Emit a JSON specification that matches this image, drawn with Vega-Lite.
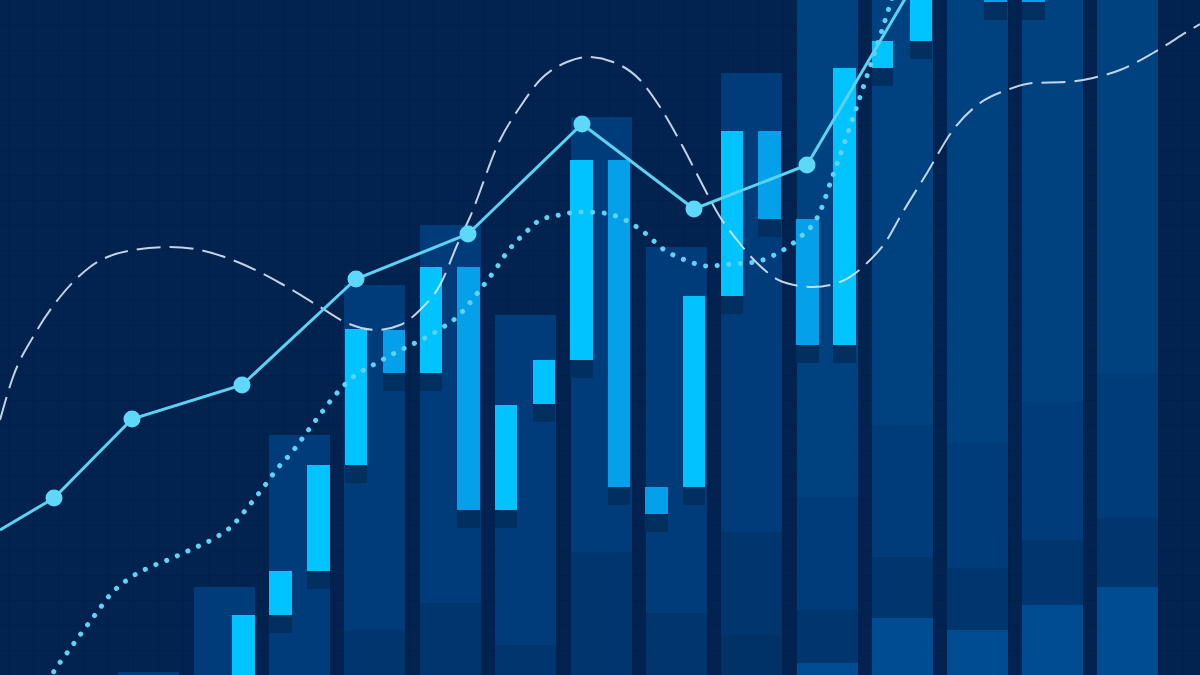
{
  "$schema": "https://vega.github.io/schema/vega-lite/v6.json",
  "width": 1200,
  "height": 675,
  "autosize": {"type": "fit", "contains": "padding"},
  "padding": 0,
  "background": "#02224f",
  "config": {"view": {"stroke": null}},
  "datasets": {
    "cols": [
      {"x": 118, "x2": 179, "y": 0, "y2": 3, "kind": "medium"},
      {"x": 194, "x2": 255, "y": 0, "y2": 88, "kind": "medium"},
      {"x": 269, "x2": 330, "y": 0, "y2": 240, "kind": "medium"},
      {"x": 344, "x2": 405, "y": 0, "y2": 45, "kind": "dark"},
      {"x": 344, "x2": 405, "y": 45, "y2": 390, "kind": "medium"},
      {"x": 420, "x2": 481, "y": 0, "y2": 72, "kind": "dark"},
      {"x": 420, "x2": 481, "y": 72, "y2": 450, "kind": "medium"},
      {"x": 495, "x2": 556, "y": 0, "y2": 30, "kind": "dark"},
      {"x": 495, "x2": 556, "y": 30, "y2": 360, "kind": "medium"},
      {"x": 571, "x2": 632, "y": 0, "y2": 123, "kind": "dark"},
      {"x": 571, "x2": 632, "y": 123, "y2": 558, "kind": "medium"},
      {"x": 646, "x2": 707, "y": 0, "y2": 62, "kind": "dark"},
      {"x": 646, "x2": 707, "y": 62, "y2": 428, "kind": "medium"},
      {"x": 721, "x2": 782, "y": 0, "y2": 40, "kind": "darker"},
      {"x": 721, "x2": 782, "y": 40, "y2": 143, "kind": "dark"},
      {"x": 721, "x2": 782, "y": 143, "y2": 602, "kind": "medium"},
      {"x": 797, "x2": 858, "y": 0, "y2": 12, "kind": "bright"},
      {"x": 797, "x2": 858, "y": 12, "y2": 65, "kind": "dark"},
      {"x": 797, "x2": 858, "y": 65, "y2": 178, "kind": "medium"},
      {"x": 797, "x2": 858, "y": 178, "y2": 675, "kind": "light"},
      {"x": 872, "x2": 933, "y": 0, "y2": 57, "kind": "bright"},
      {"x": 872, "x2": 933, "y": 57, "y2": 118, "kind": "dark"},
      {"x": 872, "x2": 933, "y": 118, "y2": 250, "kind": "medium"},
      {"x": 872, "x2": 933, "y": 250, "y2": 675, "kind": "light"},
      {"x": 947, "x2": 1008, "y": 0, "y2": 45, "kind": "bright"},
      {"x": 947, "x2": 1008, "y": 45, "y2": 107, "kind": "dark"},
      {"x": 947, "x2": 1008, "y": 107, "y2": 232, "kind": "medium"},
      {"x": 947, "x2": 1008, "y": 232, "y2": 675, "kind": "light"},
      {"x": 1022, "x2": 1083, "y": 0, "y2": 70, "kind": "bright"},
      {"x": 1022, "x2": 1083, "y": 70, "y2": 135, "kind": "dark"},
      {"x": 1022, "x2": 1083, "y": 135, "y2": 273, "kind": "medium"},
      {"x": 1022, "x2": 1083, "y": 273, "y2": 675, "kind": "light"},
      {"x": 1097, "x2": 1158, "y": 0, "y2": 88, "kind": "bright"},
      {"x": 1097, "x2": 1158, "y": 88, "y2": 157, "kind": "dark"},
      {"x": 1097, "x2": 1158, "y": 157, "y2": 302, "kind": "medium"},
      {"x": 1097, "x2": 1158, "y": 302, "y2": 675, "kind": "light"}
    ],
    "candles": [
      {"x": 269, "x2": 292, "y": 42, "y2": 60, "kind": "shadow"},
      {"x": 307, "x2": 330, "y": 86, "y2": 104, "kind": "shadow"},
      {"x": 345, "x2": 367, "y": 192, "y2": 210, "kind": "shadow"},
      {"x": 383, "x2": 405, "y": 284, "y2": 302, "kind": "shadow"},
      {"x": 420, "x2": 442, "y": 284, "y2": 302, "kind": "shadow"},
      {"x": 457, "x2": 480, "y": 147, "y2": 165, "kind": "shadow"},
      {"x": 495, "x2": 517, "y": 147, "y2": 165, "kind": "shadow"},
      {"x": 533, "x2": 555, "y": 253, "y2": 271, "kind": "shadow"},
      {"x": 570, "x2": 593, "y": 297, "y2": 315, "kind": "shadow"},
      {"x": 608, "x2": 630, "y": 170, "y2": 188, "kind": "shadow"},
      {"x": 645, "x2": 668, "y": 143, "y2": 161, "kind": "shadow"},
      {"x": 683, "x2": 705, "y": 170, "y2": 188, "kind": "shadow"},
      {"x": 721, "x2": 743, "y": 361, "y2": 379, "kind": "shadow"},
      {"x": 758, "x2": 781, "y": 438, "y2": 456, "kind": "shadow"},
      {"x": 796, "x2": 819, "y": 312, "y2": 330, "kind": "shadow"},
      {"x": 833, "x2": 856, "y": 312, "y2": 330, "kind": "shadow"},
      {"x": 872, "x2": 893, "y": 589, "y2": 607, "kind": "shadow"},
      {"x": 910, "x2": 932, "y": 616, "y2": 634, "kind": "shadow"},
      {"x": 984, "x2": 1007, "y": 655, "y2": 673, "kind": "shadow"},
      {"x": 1022, "x2": 1045, "y": 655, "y2": 673, "kind": "shadow"},
      {"x": 232, "x2": 255, "y": 0, "y2": 60, "kind": "up"},
      {"x": 269, "x2": 292, "y": 60, "y2": 104, "kind": "up"},
      {"x": 307, "x2": 330, "y": 104, "y2": 210, "kind": "up"},
      {"x": 345, "x2": 367, "y": 210, "y2": 346, "kind": "up"},
      {"x": 383, "x2": 405, "y": 302, "y2": 345, "kind": "down"},
      {"x": 420, "x2": 442, "y": 302, "y2": 408, "kind": "up"},
      {"x": 457, "x2": 480, "y": 165, "y2": 408, "kind": "down"},
      {"x": 495, "x2": 517, "y": 165, "y2": 270, "kind": "up"},
      {"x": 533, "x2": 555, "y": 271, "y2": 315, "kind": "up"},
      {"x": 570, "x2": 593, "y": 315, "y2": 515, "kind": "up"},
      {"x": 608, "x2": 630, "y": 188, "y2": 515, "kind": "down"},
      {"x": 645, "x2": 668, "y": 161, "y2": 188, "kind": "down"},
      {"x": 683, "x2": 705, "y": 188, "y2": 379, "kind": "up"},
      {"x": 721, "x2": 743, "y": 379, "y2": 544, "kind": "up"},
      {"x": 758, "x2": 781, "y": 456, "y2": 544, "kind": "down"},
      {"x": 796, "x2": 819, "y": 330, "y2": 456, "kind": "down"},
      {"x": 833, "x2": 856, "y": 330, "y2": 607, "kind": "up"},
      {"x": 872, "x2": 893, "y": 607, "y2": 634, "kind": "up"},
      {"x": 910, "x2": 932, "y": 634, "y2": 700, "kind": "up"},
      {"x": 984, "x2": 1007, "y": 673, "y2": 720, "kind": "down"},
      {"x": 1022, "x2": 1045, "y": 673, "y2": 720, "kind": "down"}
    ],
    "dotted": [
      {"x": 48, "y": -7}, {"x": 53, "y": 2}, {"x": 67, "y": 22}, {"x": 80, "y": 40},
      {"x": 95, "y": 60}, {"x": 110, "y": 80}, {"x": 127, "y": 95}, {"x": 148, "y": 107},
      {"x": 170, "y": 116}, {"x": 192, "y": 126}, {"x": 213, "y": 136}, {"x": 233, "y": 150},
      {"x": 248, "y": 168}, {"x": 263, "y": 187}, {"x": 277, "y": 206}, {"x": 293, "y": 224},
      {"x": 307, "y": 243}, {"x": 322, "y": 263}, {"x": 337, "y": 282}, {"x": 353, "y": 298},
      {"x": 373, "y": 310}, {"x": 395, "y": 322}, {"x": 405, "y": 327}, {"x": 437, "y": 344},
      {"x": 457, "y": 358}, {"x": 480, "y": 385}, {"x": 495, "y": 405}, {"x": 508, "y": 424},
      {"x": 525, "y": 442}, {"x": 540, "y": 455}, {"x": 555, "y": 459}, {"x": 580, "y": 463},
      {"x": 603, "y": 462}, {"x": 625, "y": 455}, {"x": 645, "y": 442}, {"x": 663, "y": 426},
      {"x": 685, "y": 415}, {"x": 708, "y": 409}, {"x": 732, "y": 411}, {"x": 755, "y": 413},
      {"x": 778, "y": 422}, {"x": 798, "y": 436}, {"x": 820, "y": 463}, {"x": 832, "y": 497},
      {"x": 843, "y": 528}, {"x": 855, "y": 563}, {"x": 863, "y": 587}, {"x": 882, "y": 645},
      {"x": 893, "y": 680}
    ],
    "dashed": [
      {"x": 0, "y": 255}, {"x": 13, "y": 298}, {"x": 33, "y": 338}, {"x": 60, "y": 378},
      {"x": 90, "y": 408}, {"x": 133, "y": 425}, {"x": 170, "y": 428}, {"x": 200, "y": 425},
      {"x": 240, "y": 412}, {"x": 280, "y": 392}, {"x": 320, "y": 368}, {"x": 347, "y": 352},
      {"x": 377, "y": 345}, {"x": 400, "y": 350}, {"x": 420, "y": 365}, {"x": 440, "y": 390},
      {"x": 458, "y": 432}, {"x": 470, "y": 458}, {"x": 500, "y": 535}, {"x": 520, "y": 568},
      {"x": 540, "y": 595}, {"x": 567, "y": 613}, {"x": 587, "y": 618}, {"x": 613, "y": 613},
      {"x": 640, "y": 595}, {"x": 660, "y": 568}, {"x": 683, "y": 528}, {"x": 700, "y": 495},
      {"x": 720, "y": 458}, {"x": 737, "y": 435}, {"x": 757, "y": 412}, {"x": 783, "y": 393},
      {"x": 813, "y": 388}, {"x": 840, "y": 393}, {"x": 867, "y": 412}, {"x": 887, "y": 435},
      {"x": 900, "y": 458}, {"x": 927, "y": 502}, {"x": 953, "y": 545}, {"x": 980, "y": 572},
      {"x": 1007, "y": 585}, {"x": 1033, "y": 592}, {"x": 1067, "y": 593}, {"x": 1093, "y": 597},
      {"x": 1120, "y": 605}, {"x": 1153, "y": 622}, {"x": 1190, "y": 645}, {"x": 1200, "y": 651}
    ],
    "price": [
      {"x": 0, "y": 145, "dot": false},
      {"x": 54, "y": 177, "dot": true},
      {"x": 132, "y": 256, "dot": true},
      {"x": 242, "y": 290, "dot": true},
      {"x": 356, "y": 396, "dot": true},
      {"x": 468, "y": 441, "dot": true},
      {"x": 582, "y": 551, "dot": true},
      {"x": 694, "y": 466, "dot": true},
      {"x": 807, "y": 510, "dot": true},
      {"x": 925, "y": 710, "dot": false}
    ]
  },
  "encoding": {
    "x": {
      "field": "x",
      "type": "quantitative",
      "scale": {"domain": [0, 1200], "nice": false, "zero": false},
      "axis": {
        "values": [8, 33, 58, 83, 108, 133, 158, 183, 208, 233, 258, 283, 308, 333, 358, 383, 408, 433, 458, 483, 508, 533, 558, 583, 608, 633, 658, 683, 708, 733, 758, 783, 808, 833, 858, 883, 908, 933, 958, 983, 1008, 1033, 1058, 1083, 1108, 1133, 1158, 1183],
        "grid": true, "gridColor": "#001c46", "gridOpacity": 0.45, "gridWidth": 1,
        "labels": false, "ticks": false, "domain": false, "title": null
      }
    },
    "y": {
      "field": "y",
      "type": "quantitative",
      "scale": {"domain": [0, 675], "nice": false, "zero": false},
      "axis": {
        "values": [0, 25, 50, 75, 100, 125, 150, 175, 200, 225, 250, 275, 300, 325, 350, 375, 400, 425, 450, 475, 500, 525, 550, 575, 600, 625, 650],
        "grid": true, "gridColor": "#001c46", "gridOpacity": 0.45, "gridWidth": 1,
        "labels": false, "ticks": false, "domain": false, "title": null
      }
    }
  },
  "layer": [
    {
      "data": {"name": "cols"},
      "mark": {"type": "rect", "clip": true},
      "encoding": {
        "x2": {"field": "x2"},
        "y2": {"field": "y2"},
        "color": {
          "field": "kind", "type": "nominal", "legend": null,
          "scale": {
            "domain": ["light", "medium", "dark", "darker", "bright", "shadow", "up", "down"],
            "range": ["#00427f", "#003c79", "#00366e", "#003267", "#004c93", "#002f60", "#00c3ff", "#05a0ea"]
          }
        }
      }
    },
    {
      "data": {"name": "candles"},
      "mark": {"type": "rect", "clip": true},
      "encoding": {
        "x2": {"field": "x2"},
        "y2": {"field": "y2"},
        "color": {"field": "kind", "type": "nominal", "legend": null}
      }
    },
    {
      "data": {"name": "dotted"},
      "mark": {"type": "line", "clip": true, "interpolate": "monotone", "color": "#5fd3f5", "strokeWidth": 5, "strokeCap": "round", "strokeDash": [0.1, 11.5]},
      "encoding": {}
    },
    {
      "data": {"name": "dashed"},
      "mark": {"type": "line", "clip": true, "interpolate": "monotone", "color": "#d6e6f5", "strokeWidth": 2, "opacity": 0.9, "strokeDash": [24, 9]},
      "encoding": {}
    },
    {
      "data": {"name": "price"},
      "mark": {"type": "line", "clip": true, "color": "#5cd2f3", "strokeWidth": 3},
      "encoding": {}
    },
    {
      "data": {"name": "price"},
      "transform": [{"filter": "datum.dot"}],
      "mark": {"type": "circle", "clip": true, "color": "#5ed8f8", "opacity": 1, "size": 290},
      "encoding": {}
    }
  ]
}
